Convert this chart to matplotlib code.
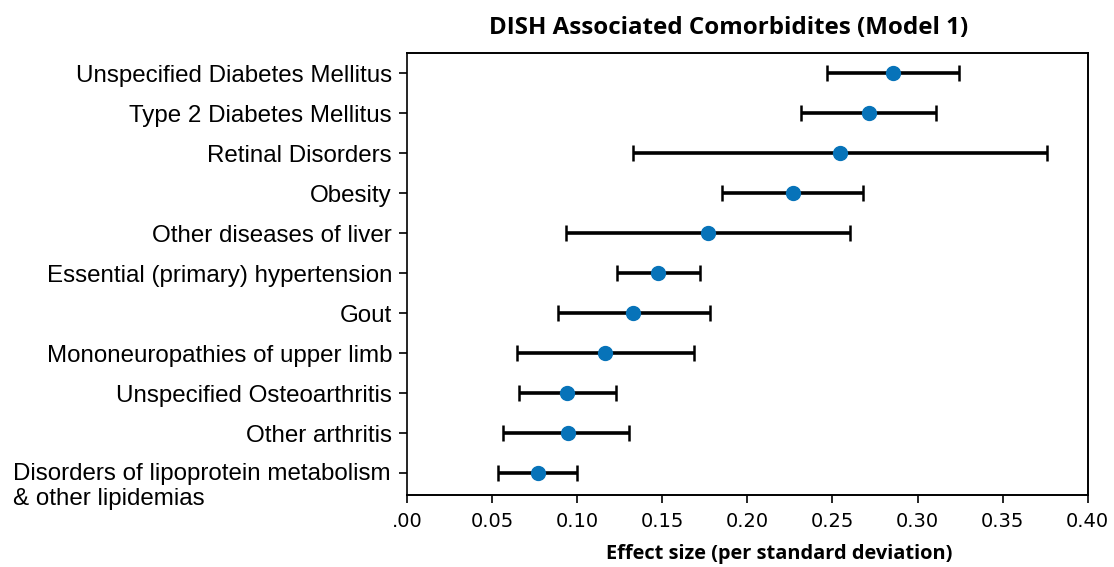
import matplotlib.pyplot as plt
import matplotlib.transforms as mtransforms
import numpy as np

conditions = ["Unspecified Diabetes Mellitus", "Type 2 Diabetes Mellitus", "Retinal Disorders",
              "Obesity", "Other diseases of liver", "Essential (primary) hypertension", "Gout",
              "Mononeuropathies of upper limb", "Unspecified Osteoarthritis", "Other arthritis",
              "Disorders of lipoprotein metabolism\n& other lipidemias"]
effect = [0.2857, 0.2712, 0.2545, 0.2269, 0.1769, 0.1475, 0.1328, 0.1163, 0.0939, 0.0943, 0.0767]
ci_low = [0.2467, 0.2314, 0.1328, 0.1851, 0.0933, 0.1233, 0.0886, 0.0645, 0.0657, 0.0565, 0.0535]
ci_high = [0.3241, 0.3106, 0.3763, 0.2681, 0.2604, 0.1722, 0.1780, 0.1686, 0.1228, 0.1306, 0.1000]
xticks = [0.0, 0.05, 0.10, 0.15, 0.20, 0.25, 0.30, 0.35, 0.40]
xtick_labels = [".00", "0.05", "0.10", "0.15", "0.20", "0.25", "0.30", "0.35", "0.40"]

effect = np.array(effect)
err = [effect - np.array(ci_low), np.array(ci_high) - effect]
ypos = np.arange(len(conditions))[::-1]

fig = plt.figure(figsize=(11.14, 5.67), dpi=100)
ax = fig.add_axes([0.3656, 0.127, 0.6107, 0.779])

ax.errorbar(effect, ypos, xerr=err, fmt='o', color='#0773B9', markersize=10,
            ecolor='black', elinewidth=2.6, capsize=6, capthick=1.8, zorder=3)

ax.set_xlim(0, 0.40)
ax.set_ylim(-0.55, 10.5)
ax.set_xticks(xticks)
ax.set_xticklabels(xtick_labels, fontsize=14, family='DejaVu Sans')
ax.set_yticks(ypos)
# the two-line label is drawn separately so its first line sits on the tick
ax.set_yticklabels(conditions[:-1] + [""], fontsize=17.4, family='Liberation Sans')
label_trans = mtransforms.blended_transform_factory(ax.transAxes, ax.transData) + \
    mtransforms.ScaledTranslation(-0.17, 0.105, fig.dpi_scale_trans)
ax.text(0, ypos[-1], conditions[-1], transform=label_trans, ha='right', va='top',
        multialignment='left', fontsize=17.4, family='Liberation Sans')
ax.tick_params(axis='y', direction='out', length=6, width=1.2, pad=5)
ax.tick_params(axis='x', direction='out', length=6, width=1.2, pad=6)

for side in ['top', 'right', 'bottom']:
    ax.spines[side].set_linewidth(1.4)
ax.spines['left'].set_linestyle((0, (2, 1)))
ax.spines['left'].set_linewidth(1.2)

ax.set_title("DISH Associated Comorbidites (Model 1)", fontsize=17.4, fontweight='bold',
             family='Open Sans', x=0.472, pad=14)
ax.set_xlabel("Effect size (per standard deviation)", fontsize=14.4, fontweight='bold',
              family='Open Sans', labelpad=8)
ax.xaxis.set_label_coords(0.547, -0.11)

fig.savefig('out.png', dpi=100)
